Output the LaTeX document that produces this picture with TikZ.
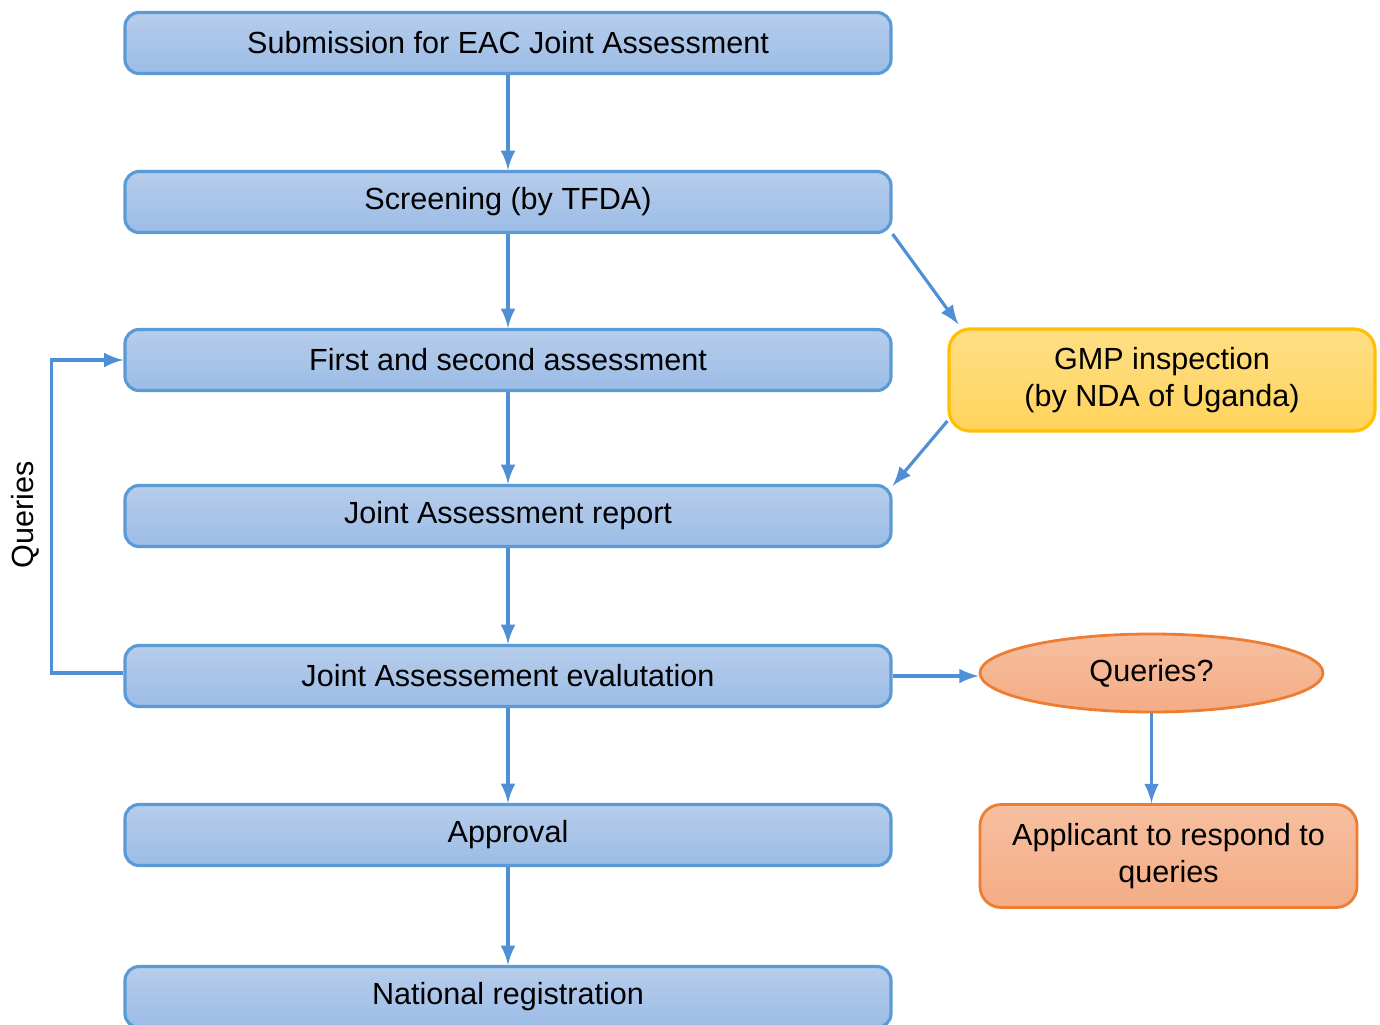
\documentclass[tikz,border=0pt]{standalone}
\usepackage{fontspec}
\setmainfont{Liberation Sans}
\usepackage{tikz}
\usetikzlibrary{shapes.geometric, arrows}

\definecolor{lineblue}{HTML}{5B9BD5}
\definecolor{arrowblue}{HTML}{4F8FD6}
\definecolor{bluetop}{HTML}{B7CDEB}
\definecolor{bluebot}{HTML}{9BBCE6}
\definecolor{goldline}{HTML}{FFC000}
\definecolor{goldtop}{HTML}{FFDF85}
\definecolor{goldbot}{HTML}{FFD35C}
\definecolor{orangeline}{HTML}{ED7D31}
\definecolor{orangetop}{HTML}{F6BFA0}
\definecolor{orangebot}{HTML}{F4AC85}

\tikzset{
    stagebox/.style={draw=lineblue, line width=0.9pt, rounded corners=4pt,
        top color=bluetop, bottom color=bluebot,
        minimum width=7.66cm, minimum height=0.61cm, inner sep=0pt,
        font=\fontsize{8.7}{11}\selectfont},
    gmpbox/.style={draw=goldline, line width=0.9pt, rounded corners=6pt,
        top color=goldtop, bottom color=goldbot,
        minimum width=4.26cm, minimum height=1.02cm, align=center,
        font=\fontsize{8.7}{10.5}\selectfont},
    querybox/.style={draw=orangeline, line width=0.8pt, rounded corners=6pt,
        top color=orangetop, bottom color=orangebot,
        minimum width=3.77cm, minimum height=1.03cm, align=center,
        font=\fontsize{8.7}{10.5}\selectfont},
    flow/.style={draw=arrowblue, line width=0.9pt, -latex}
}

\begin{document}
\begin{tikzpicture}
    \useasboundingbox (0,0) rectangle (13.8,-10.25);

    % Main stages
    \node[stagebox] (submit) at (5.08,-0.43) {Submission for EAC Joint Assessment};
    \node[stagebox] (screen) at (5.08,-2.02) {Screening (by TFDA)};
    \node[stagebox] (first) at (5.08,-3.6) {First and second assessment};
    \node[stagebox] (report) at (5.08,-5.16) {Joint Assessment report};
    \node[stagebox] (eval) at (5.08,-6.76) {Joint Assessement evalutation};
    \node[stagebox] (approve) at (5.08,-8.35) {Approval};
    \node[stagebox] (national) at (5.08,-9.97) {National registration};

    % Side branches
    \node[gmpbox] (gmp) at (11.62,-3.8) {GMP inspection\\(by NDA of Uganda)};
    \node[draw=orangeline, line width=0.8pt, ellipse,
        top color=orangetop, bottom color=orangebot,
        minimum width=3.43cm, minimum height=0.78cm, inner sep=0pt,
        font=\fontsize{8.7}{11}\selectfont] (ask) at (11.515,-6.73) {Queries?};
    \node[querybox] (respond) at (11.685,-8.56) {Applicant to respond to\\queries};

    % Connectors down the main column
    \foreach \a/\b in {submit/screen, screen/first, first/report,
                       report/eval, eval/approve, approve/national}
        \draw[flow] (\a) -- (\b);

    % Connectors to and from the side
    \draw[flow] (screen.south east) -- ([xshift=0.11cm,yshift=0.03cm]gmp.north west);
    \draw[flow] ([yshift=-0.41cm]gmp.west) -- ([yshift=-0.02cm]report.north east);
    \draw[flow] (eval.east) -- (eval.east -| ask.west);
    \draw[flow] (ask.south) -- (ask.south |- respond.north);

    % Queries loop back
    \draw[flow] ([yshift=0.03cm]eval.west) -- ++(-0.72,0) |- (first.west);
    \node[rotate=90, font=\fontsize{8.7}{11}\selectfont] (loop) at (0.25,-5.15) {Queries};
\end{tikzpicture}
\end{document}
